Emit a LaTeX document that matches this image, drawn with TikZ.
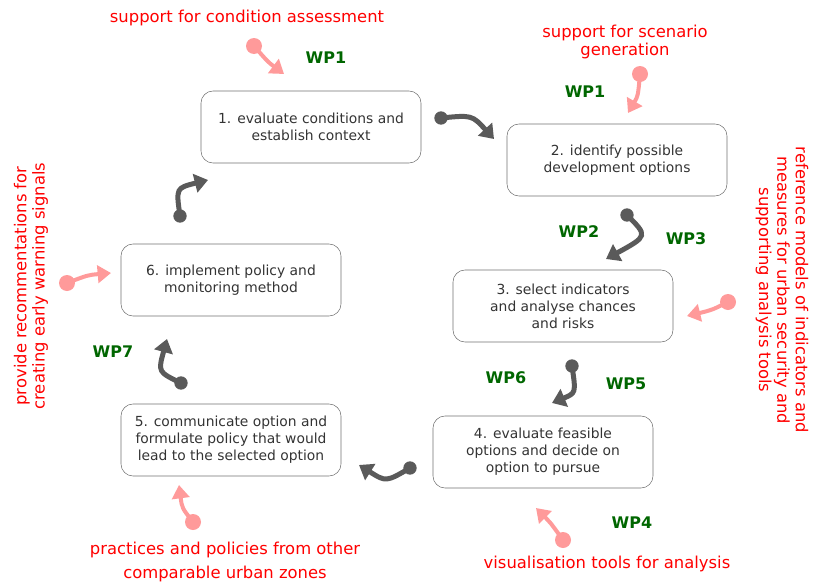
\documentclass[tikz,border=0pt]{standalone}
\usepackage{fontspec}
\setmainfont{DejaVu Sans}
\usetikzlibrary{arrows.meta}
\definecolor{boxline}{HTML}{707070}
\definecolor{boxtext}{HTML}{333333}
\definecolor{flowgray}{HTML}{5A5A5A}
\definecolor{feedpink}{HTML}{FF9A9A}
\definecolor{wpgreen}{HTML}{006600}
\tikzstyle{task}=[draw=boxline,rounded corners=9pt,minimum width=165pt,minimum height=54pt,align=center,text=boxtext,font=\fontsize{10.4pt}{12.75pt}\selectfont]
\tikzstyle{wp}=[text=wpgreen,font=\fontsize{12pt}{14pt}\selectfont\bfseries]
\tikzstyle{note}=[text=red,align=center,font=\fontsize{12.3pt}{13.8pt}\selectfont]
\tikzstyle{flow}=[draw=flowgray,line width=3.75pt,-{Triangle[length=10pt,width=14pt]}]
\tikzstyle{feed}=[draw=feedpink,line width=3pt,-{Triangle[length=10pt,width=13pt]}]

\begin{document}
\begin{tikzpicture}[x=0.75pt,y=-0.75pt]
      \useasboundingbox (0,0) rectangle (815,582);

      % the six steps
      \node[task] (s1) at (311,127) {1. evaluate conditions and\\establish context};
      \node[task] (s2) at (617,160) {2. identify possible\\development options};
      \node[task] (s3) at (563,306) {3. select indicators\\and analyse chances\\and risks};
      \node[task] (s4) at (543,452) {4. evaluate feasible\\options and decide on\\option to pursue};
      \node[task] (s5) at (231,440) {5. communicate option and\\formulate policy that would\\lead to the selected option};
      \node[task] (s6) at (231,280) {6. implement policy and\\monitoring method};

      % work packages
      \node[wp] (w1) at (326,58) {WP1};
      \node[wp] (w2) at (585,92) {WP1};
      \node[wp] (w3) at (579,232) {WP2};
      \node[wp] (w4) at (686,239) {WP3};
      \node[wp] (w5) at (506,378) {WP6};
      \node[wp] (w6) at (626,384) {WP5};
      \node[wp] (w7) at (632,523) {WP4};
      \node[wp] (w8) at (113,352) {WP7};

      % inputs
      \node[note] (r1) at (247,18) {support for condition assessment};
      \node[note] (r2) at (625,42) {support for scenario\\generation};
      \node[note, rotate=-90] (r3) at (782,290) {reference models of indicators and\\measures for urban security and\\supporting analysis tools};
      \node[note] (r4) at (607,564) {visualisation tools for analysis};
      \node[note, font=\fontsize{12.3pt}{17.8pt}\selectfont] (r5) at (225,562) {practices and policies from other\\comparable urban zones};
      \node[note, rotate=90] (r6) at (31,286) {provide recommentations for\\creating early warning signals};

      % cycle arrows
      \coordinate (a1) at (441,118); \coordinate (b1) at (494,139);
      \coordinate (a2) at (627,215); \coordinate (b2) at (606,259);
      \coordinate (a3) at (572,366); \coordinate (b3) at (552,403);
      \coordinate (a4) at (410,468); \coordinate (b4) at (359,465);
      \coordinate (a5) at (181,383); \coordinate (b5) at (167,339);
      \coordinate (a6) at (180,216); \coordinate (b6) at (208,180);
      \draw[flow] (a1) .. controls (472,115) .. (b1);
      \draw[flow] (a2) .. controls (648,236) .. (b2);
      \draw[flow] (a3) .. controls (576,393) .. (b3);
      \draw[flow] (a4) .. controls (386,482) .. (b4);
      \draw[flow] (a5) .. controls (158,372) .. (b5);
      \draw[flow] (a6) .. controls (176,188) .. (b6);
      \foreach \c in {a1,a2,a3,a4,a5,a6}
        \fill[flowgray] (\c) circle (5pt);

      % input arrows
      \coordinate (p1) at (254,46); \coordinate (q1) at (284,74);
      \coordinate (p2) at (640,74); \coordinate (q2) at (628,113);
      \coordinate (p3) at (728,302); \coordinate (q3) at (687,316);
      \coordinate (p4) at (563,540); \coordinate (q4) at (536,508);
      \coordinate (p5) at (193,522); \coordinate (q5) at (179,485);
      \coordinate (p6) at (67,283); \coordinate (q6) at (111,273);
      \draw[feed] (p1) .. controls (268,62) .. (q1);
      \draw[feed] (p2) .. controls (638,96) .. (q2);
      \draw[feed] (p3) .. controls (712,310) .. (q3);
      \draw[feed] (p4) .. controls (550,522) .. (q4);
      \draw[feed] (p5) .. controls (182,508) .. (q5);
      \draw[feed] (p6) .. controls (88,275) .. (q6);
      \foreach \c in {p1,p2,p3,p4,p5,p6}
        \fill[feedpink] (\c) circle (6pt);
    \end{tikzpicture}
\end{document}
